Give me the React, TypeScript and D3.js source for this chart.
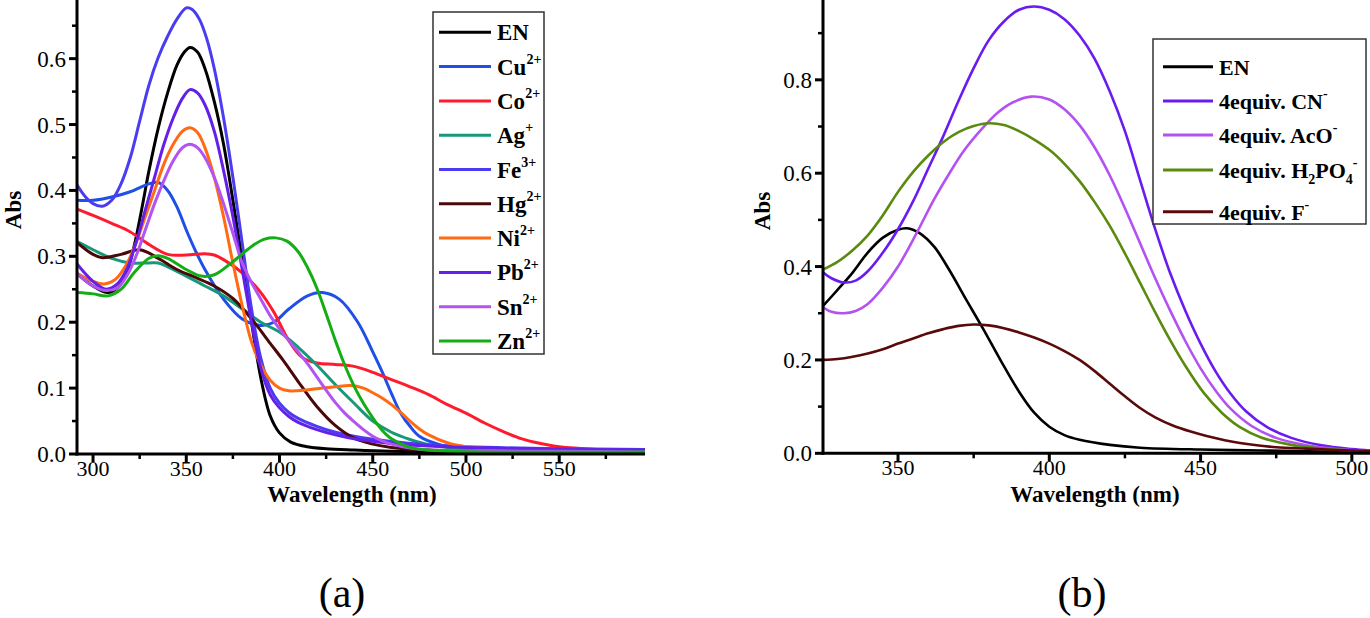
import React from "react";
import * as d3 from "d3";

// ---------- Panel (a) data: wavelength (nm), absorbance ----------
const aEN: [number, number][] = [[291,0.275],[300,0.255],[308,0.245],[313,0.252],[318,0.275],[322,0.315],[326,0.37],[330,0.43],[335,0.495],[340,0.548],[345,0.59],[349,0.61],[352,0.617],[356,0.61],[360,0.585],[365,0.535],[370,0.47],[375,0.385],[380,0.295],[385,0.2],[390,0.115],[395,0.058],[400,0.032],[406,0.018],[415,0.011],[425,0.008],[440,0.006],[460,0.004],[500,0.002],[550,0.0015],[596,0.001]];
const aCu: [number, number][] = [[291,0.385],[300,0.385],[310,0.39],[320,0.398],[330,0.41],[335,0.412],[340,0.4],[345,0.375],[350,0.34],[355,0.308],[360,0.28],[370,0.235],[380,0.205],[390,0.195],[397,0.2],[405,0.22],[415,0.24],[423,0.245],[432,0.235],[442,0.2],[450,0.155],[455,0.125],[460,0.092],[465,0.062],[470,0.042],[475,0.027],[485,0.015],[495,0.01],[520,0.006],[560,0.004],[596,0.003]];
const aCo: [number, number][] = [[291,0.372],[300,0.362],[310,0.35],[320,0.337],[330,0.318],[340,0.303],[350,0.302],[360,0.304],[365,0.302],[370,0.295],[380,0.275],[390,0.245],[397,0.215],[405,0.172],[412,0.147],[420,0.138],[430,0.136],[440,0.133],[450,0.124],[460,0.113],[470,0.102],[480,0.09],[490,0.075],[500,0.062],[510,0.047],[520,0.034],[530,0.023],[540,0.016],[550,0.011],[570,0.007],[596,0.005]];
const aAg: [number, number][] = [[291,0.323],[300,0.31],[310,0.297],[320,0.29],[330,0.29],[335,0.29],[340,0.284],[350,0.27],[360,0.255],[370,0.24],[380,0.22],[390,0.2],[400,0.185],[410,0.162],[420,0.135],[430,0.105],[440,0.077],[450,0.05],[460,0.033],[470,0.022],[480,0.014],[490,0.01],[520,0.006],[596,0.004]];
const aFe: [number, number][] = [[291,0.41],[296,0.39],[300,0.38],[305,0.376],[310,0.385],[315,0.41],[320,0.45],[325,0.505],[330,0.56],[335,0.602],[340,0.634],[345,0.66],[350,0.677],[353,0.675],[357,0.66],[361,0.63],[365,0.585],[370,0.51],[375,0.42],[380,0.32],[385,0.22],[390,0.145],[395,0.1],[400,0.077],[405,0.063],[410,0.054],[420,0.042],[430,0.033],[440,0.027],[460,0.019],[480,0.014],[500,0.011],[550,0.008],[596,0.007]];
const aHg: [number, number][] = [[291,0.322],[300,0.303],[305,0.298],[315,0.303],[325,0.31],[335,0.297],[345,0.28],[355,0.268],[365,0.255],[375,0.236],[385,0.205],[395,0.168],[402,0.142],[410,0.11],[420,0.072],[430,0.043],[440,0.024],[450,0.015],[460,0.01],[480,0.006],[520,0.004],[596,0.003]];
const aNi: [number, number][] = [[291,0.275],[300,0.262],[306,0.258],[312,0.265],[318,0.288],[323,0.32],[328,0.36],[333,0.4],[338,0.44],[343,0.47],[348,0.49],[352,0.495],[356,0.488],[360,0.465],[365,0.42],[370,0.36],[375,0.29],[380,0.225],[385,0.17],[390,0.135],[395,0.112],[400,0.1],[405,0.096],[410,0.096],[420,0.099],[430,0.102],[438,0.104],[445,0.1],[450,0.093],[455,0.085],[460,0.075],[465,0.063],[470,0.05],[475,0.038],[480,0.029],[490,0.017],[500,0.011],[520,0.007],[550,0.005],[596,0.004]];
const aPb: [number, number][] = [[291,0.29],[300,0.262],[307,0.25],[313,0.258],[318,0.28],[323,0.32],[328,0.37],[333,0.42],[338,0.47],[343,0.51],[348,0.54],[352,0.553],[356,0.548],[360,0.53],[365,0.49],[370,0.43],[375,0.36],[380,0.28],[385,0.2],[390,0.13],[395,0.09],[400,0.07],[405,0.057],[410,0.048],[420,0.037],[430,0.029],[440,0.023],[460,0.016],[480,0.012],[500,0.01],[550,0.007],[596,0.006]];
const aSn: [number, number][] = [[291,0.275],[300,0.255],[307,0.248],[313,0.252],[318,0.27],[323,0.3],[328,0.34],[333,0.38],[338,0.415],[343,0.445],[348,0.465],[352,0.47],[356,0.465],[360,0.45],[365,0.42],[370,0.38],[375,0.335],[380,0.29],[385,0.26],[390,0.235],[395,0.21],[400,0.19],[405,0.172],[410,0.155],[415,0.137],[420,0.117],[425,0.097],[430,0.078],[435,0.062],[440,0.049],[445,0.037],[450,0.027],[455,0.02],[460,0.015],[470,0.009],[480,0.006],[500,0.005],[550,0.004],[596,0.003]];
const aZn: [number, number][] = [[291,0.245],[300,0.243],[308,0.24],[315,0.25],[322,0.275],[330,0.297],[335,0.301],[340,0.297],[350,0.28],[358,0.27],[365,0.272],[375,0.292],[385,0.315],[392,0.326],[398,0.328],[404,0.323],[410,0.307],[415,0.283],[420,0.252],[425,0.213],[430,0.172],[435,0.135],[440,0.103],[445,0.077],[450,0.055],[455,0.036],[460,0.023],[470,0.01],[485,0.005],[596,0.003]];

const aNames = ["EN", "Cu", "Co", "Ag", "Fe", "Hg", "Ni", "Pb", "Sn", "Zn"];
const aSups = ["", "2+", "2+", "+", "3+", "2+", "2+", "2+", "2+", "2+"];
const aColors = ["#000000", "#1f4fe6", "#ff1a2e", "#17987a", "#4b3cf2", "#4a0808", "#ff6a12", "#6420e8", "#b253f2", "#14ad14"];
const aSeries = [aEN, aCu, aCo, aAg, aFe, aHg, aNi, aPb, aSn, aZn];

// ---------- Panel (b) data ----------
const bEN: [number, number][] = [[325,0.314],[330,0.35],[335,0.387],[340,0.43],[345,0.462],[350,0.479],[353,0.482],[357,0.472],[362,0.442],[367,0.392],[372,0.335],[378,0.268],[384,0.198],[390,0.132],[395,0.087],[400,0.057],[405,0.039],[410,0.029],[420,0.018],[430,0.012],[450,0.008],[470,0.006],[490,0.004],[506,0.003]];
const bCN: [number, number][] = [[325,0.389],[328,0.375],[332,0.366],[336,0.37],[340,0.39],[345,0.43],[350,0.48],[355,0.54],[360,0.61],[365,0.68],[370,0.755],[375,0.825],[380,0.885],[385,0.925],[390,0.95],[395,0.957],[400,0.95],[405,0.93],[410,0.895],[415,0.845],[420,0.775],[425,0.69],[430,0.585],[435,0.48],[440,0.385],[445,0.305],[450,0.235],[455,0.175],[460,0.127],[465,0.09],[472,0.056],[480,0.033],[490,0.017],[500,0.009],[506,0.006]];
const bAcO: [number, number][] = [[325,0.314],[328,0.303],[332,0.3],[336,0.305],[340,0.32],[345,0.355],[350,0.4],[356,0.47],[362,0.545],[367,0.6],[372,0.65],[378,0.697],[383,0.73],[388,0.752],[394,0.764],[400,0.758],[405,0.737],[410,0.703],[415,0.655],[420,0.595],[425,0.525],[430,0.45],[435,0.375],[440,0.305],[445,0.24],[450,0.182],[455,0.134],[460,0.095],[467,0.058],[475,0.033],[485,0.017],[495,0.009],[506,0.005]];
const bH2PO4: [number, number][] = [[325,0.393],[330,0.41],[335,0.435],[340,0.467],[345,0.51],[350,0.56],[355,0.603],[360,0.638],[365,0.667],[370,0.688],[375,0.701],[380,0.707],[385,0.703],[390,0.69],[395,0.672],[400,0.65],[405,0.62],[410,0.583],[415,0.538],[420,0.487],[425,0.428],[430,0.365],[435,0.302],[440,0.242],[445,0.187],[451,0.13],[457,0.087],[463,0.056],[470,0.034],[480,0.018],[490,0.01],[500,0.006],[506,0.005]];
const bF: [number, number][] = [[325,0.2],[330,0.202],[335,0.207],[340,0.214],[345,0.223],[350,0.235],[355,0.246],[360,0.257],[365,0.266],[370,0.273],[375,0.276],[380,0.274],[385,0.268],[390,0.259],[395,0.248],[400,0.235],[405,0.219],[410,0.2],[415,0.176],[420,0.149],[425,0.122],[430,0.097],[435,0.077],[441,0.059],[447,0.046],[452,0.037],[463,0.022],[475,0.013],[485,0.01],[495,0.007],[506,0.005]];

const bColors = ["#000000", "#6a1cf0", "#b451f2", "#5a8a0e", "#5a0a0a"];
const bSeries = [bEN, bCN, bAcO, bH2PO4, bF];

// tick values
const aXTicks = [300, 350, 400, 450, 500, 550];
const aXMinor = [325, 375, 425, 475, 525, 575];
const aYTicks = [0, 0.1, 0.2, 0.3, 0.4, 0.5, 0.6];
const aYMinor = [0.05, 0.15, 0.25, 0.35, 0.45, 0.55, 0.65];
const bXTicks = [350, 400, 450, 500];
const bXMinor = [375, 425, 475];
const bYTicks = [0, 0.2, 0.4, 0.6, 0.8];
const bYMinor = [0.1, 0.3, 0.5, 0.7, 0.9];

const FONT = "'Liberation Serif', 'Times New Roman', serif";

function Axes({ x, y, xt, xm, yt, ym }: any) {
  const [x0, x1] = x.range();
  const [y0, y1] = y.range();
  const fmt = d3.format(".1f");
  return (
    <g>
      <line x1={x0} x2={x0} y1={y1} y2={y0 + 1.5} stroke="#000" strokeWidth={3} />
      <line x1={x0 - 1.5} x2={x1} y1={y0} y2={y0} stroke="#000" strokeWidth={3} />
      {yt.map((v: number) => (
        <g key={"yt" + v}>
          <line x1={x0 - 8} x2={x0} y1={y(v)} y2={y(v)} stroke="#000" strokeWidth={3} />
          <text x={x0 - 11} y={y(v)} dy="0.35em" textAnchor="end" fontSize={23} style={{ fontFamily: FONT }}>{fmt(v)}</text>
        </g>
      ))}
      {ym.map((v: number) => (
        <line key={"ym" + v} x1={x0 - 5} x2={x0} y1={y(v)} y2={y(v)} stroke="#000" strokeWidth={2.5} />
      ))}
      {xt.map((v: number) => (
        <g key={"xt" + v}>
          <line x1={x(v)} x2={x(v)} y1={y0} y2={y0 + 8} stroke="#000" strokeWidth={3} />
          <text x={x(v)} y={y0 + 22} textAnchor="middle" fontSize={22} style={{ fontFamily: FONT }}>{v}</text>
        </g>
      ))}
      {xm.map((v: number) => (
        <line key={"xm" + v} x1={x(v)} x2={x(v)} y1={y0} y2={y0 + 5} stroke="#000" strokeWidth={2.5} />
      ))}
    </g>
  );
}

export default function App() {
  const ax = d3.scaleLinear().domain([291.4, 596]).range([77, 645]);
  const ay = d3.scaleLinear().domain([0, 0.689]).range([454, 0]);
  const bx = d3.scaleLinear().domain([325.2, 506]).range([823, 1370]);
  const by = d3.scaleLinear().domain([0, 0.971]).range([453.3, 0]);

  const curve = d3.curveCatmullRom.alpha(0.5);
  const aLine = d3.line<[number, number]>().x((d) => ax(d[0])).y((d) => ay(d[1])).curve(curve);
  const bLine = d3.line<[number, number]>().x((d) => bx(d[0])).y((d) => by(d[1])).curve(curve);

  const aRow = (i: number) => 32.3 + i * 34.3;
  const bRows = [66.7, 101, 135, 170, 211.7];
  const T = { fontFamily: FONT };

  return (
    <svg width={1370} height={618} style={{ position: "absolute", left: 0, top: 0, background: "#fff", fontFamily: FONT }}>
      <defs>
        <clipPath id="clipA"><rect x={77} y={0} width={568} height={454} /></clipPath>
        <clipPath id="clipB"><rect x={823} y={0} width={547} height={453.3} /></clipPath>
      </defs>

      {/* Panel (a) */}
      <g clipPath="url(#clipA)">
        {aSeries.map((s, i) => (
          <path key={i} d={aLine(s) || ""} fill="none" stroke={aColors[i]} strokeWidth={3} />
        ))}
      </g>
      <Axes x={ax} y={ay} xt={aXTicks} xm={aXMinor} yt={aYTicks} ym={aYMinor} />
      <text transform="translate(21,210) rotate(-90)" textAnchor="middle" fontSize={23} fontWeight="bold" style={T}>Abs</text>
      <text x={352} y={502} textAnchor="middle" fontSize={23} fontWeight="bold" style={T}>Wavelength (nm)</text>
      <text x={342} y={607} textAnchor="middle" fontSize={42} style={T}>(a)</text>

      <rect x={433} y={12} width={111} height={342} fill="#fff" stroke="#333" strokeWidth={1.5} />
      {aNames.map((n, i) => (
        <g key={n}>
          <line x1={439} x2={491} y1={aRow(i)} y2={aRow(i)} stroke={aColors[i]} strokeWidth={3} />
          <text x={497} y={aRow(i) + 8} fontSize={23} fontWeight="bold" style={T}>
            {n}
            {aSups[i] ? <tspan fontSize={14} dy={-11}>{aSups[i]}</tspan> : null}
          </text>
        </g>
      ))}

      {/* Panel (b) */}
      <g clipPath="url(#clipB)">
        {bSeries.map((s, i) => (
          <path key={i} d={bLine(s) || ""} fill="none" stroke={bColors[i]} strokeWidth={2.6} />
        ))}
      </g>
      <Axes x={bx} y={by} xt={bXTicks} xm={bXMinor} yt={bYTicks} ym={bYMinor} />
      <text transform="translate(770,211) rotate(-90)" textAnchor="middle" fontSize={23} fontWeight="bold" style={T}>Abs</text>
      <text x={1095} y={502} textAnchor="middle" fontSize={23} fontWeight="bold" style={T}>Wavelength (nm)</text>
      <text x={1082} y={607} textAnchor="middle" fontSize={42} style={T}>(b)</text>

      <rect x={1153} y={39} width={213} height={185} fill="#fff" stroke="#333" strokeWidth={1.5} />
      {bRows.map((ry, i) => (
        <line key={"bl" + i} x1={1163} x2={1213} y1={ry} y2={ry} stroke={bColors[i]} strokeWidth={3} />
      ))}
      <text x={1219} y={bRows[0] + 8} fontSize={22} fontWeight="bold" style={T}>EN</text>
      <text x={1219} y={bRows[1] + 8} fontSize={22} fontWeight="bold" style={T}>4equiv. CN<tspan fontSize={14} dy={-11}>-</tspan></text>
      <text x={1219} y={bRows[2] + 8} fontSize={22} fontWeight="bold" style={T}>4equiv. AcO<tspan fontSize={14} dy={-11}>-</tspan></text>
      <text x={1219} y={bRows[3] + 8} fontSize={22} fontWeight="bold" style={T}>
        4equiv. H<tspan fontSize={14} dy={6}>2</tspan><tspan dy={-6}>PO</tspan><tspan fontSize={14} dy={6}>4</tspan><tspan fontSize={14} dy={-17}>-</tspan>
      </text>
      <text x={1219} y={bRows[4] + 8} fontSize={22} fontWeight="bold" style={T}>4equiv. F<tspan fontSize={14} dy={-11}>-</tspan></text>
    </svg>
  );
}
